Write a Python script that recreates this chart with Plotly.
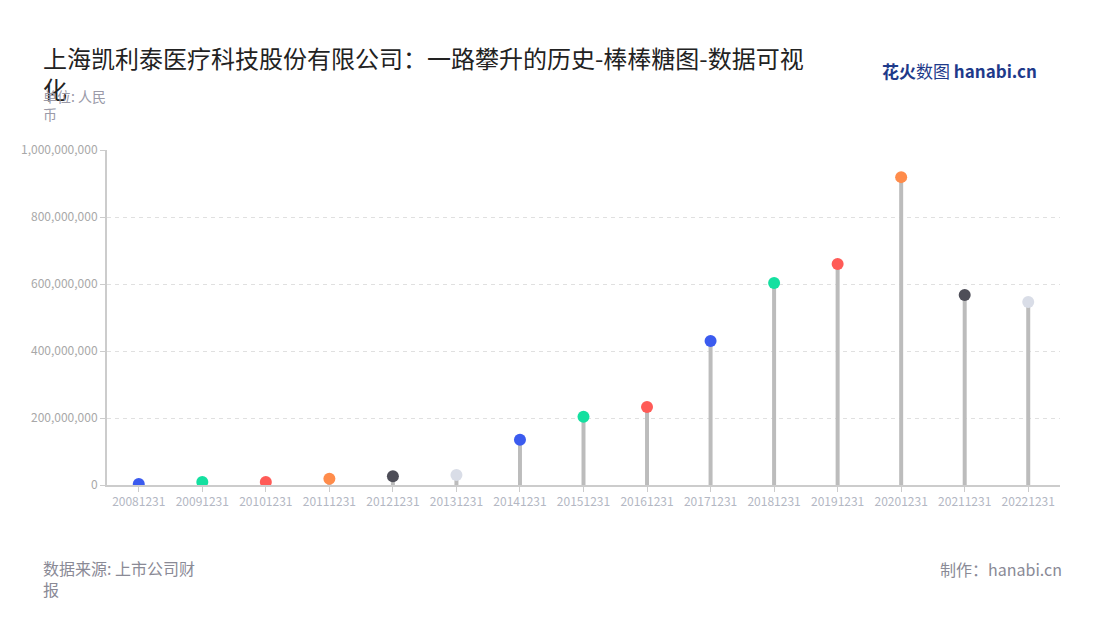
import plotly.graph_objects as go

categories = ["20081231", "20091231", "20101231", "20111231", "20121231", "20131231",
              "20141231", "20151231", "20161231", "20171231", "20181231", "20191231",
              "20201231", "20211231", "20221231"]
values = [3e6, 9e6, 9e6, 19e6, 26e6, 30e6, 135e6, 204e6, 233e6, 430e6, 603e6, 660e6,
          919e6, 567e6, 546e6]
point_colors = ["#3b5bef", "#14e0a0", "#ff5b57", "#ff8c4b", "#4e4e58", "#d9dde7",
                "#3b5bef", "#14e0a0", "#ff5b57", "#3b5bef", "#14e0a0", "#ff5b57",
                "#ff8c4b", "#4e4e58", "#d9dde7"]
y_ticks = [0, 200e6, 400e6, 600e6, 800e6, 1000e6]

title = "上海凯利泰医疗科技股份有限公司：一路攀升的历史-棒棒糖图-数据可视<br>化"
unit = "单位: 人民<br>币"
source = "数据来源: 上市公司财<br>报"
maker = "制作：hanabi.cn"

font = "Noto Sans CJK SC, Noto Sans, sans-serif"

fig = go.Figure()
for c, v in zip(categories, values):
    fig.add_trace(go.Scatter(x=[c, c], y=[0, v], mode="lines",
                             line=dict(color="#bcbcbc", width=4),
                             hoverinfo="skip", showlegend=False))
fig.add_trace(go.Scatter(x=categories, y=values, mode="markers",
                         marker=dict(color=point_colors, size=12, line=dict(width=0)),
                         showlegend=False))

W, H = 1100, 620
pl, pr, pt, pb = 107, 40, 150, 135
pw, ph = W - pl - pr, H - pt - pb

fig.update_layout(
    width=W, height=H,
    paper_bgcolor="white", plot_bgcolor="white",
    margin=dict(l=pl, r=pr, t=pt, b=pb),
    font=dict(family=font),
    xaxis=dict(type="category", categoryorder="array", categoryarray=categories,
               range=[-0.5, len(categories) - 0.5],
               showgrid=False, showline=True, linecolor="#cccccc", linewidth=2,
               ticks="outside", ticklen=5, tickcolor="#cccccc",
               tickfont=dict(size=12, color="#b3b7c3"), zeroline=False),
    yaxis=dict(range=[0, 1e9], tickvals=y_ticks, tickformat=",d",
               showgrid=True, gridcolor="#e0e0e0", griddash="4px,4px", gridwidth=1,
               showline=True, linecolor="#cccccc", linewidth=2,
               ticks="outside", ticklen=5, tickcolor="#cccccc",
               tickfont=dict(size=12, color="#a8a8a8"), zeroline=False),
)


def px(x):
    return (x - pl) / pw


def py(y):
    return (H - pb - y) / ph


fig.add_annotation(text=title, x=px(41), y=py(38), xref="paper", yref="paper",
                   xanchor="left", yanchor="top", align="left", showarrow=False,
                   font=dict(size=24, color="#222222", family=font))
fig.add_annotation(text=unit, x=px(41), y=py(84), xref="paper", yref="paper",
                   xanchor="left", yanchor="top", align="left", showarrow=False,
                   font=dict(size=14, color="#9a9aa8", family=font))
fig.add_annotation(text=source, x=px(41), y=py(554), xref="paper", yref="paper",
                   xanchor="left", yanchor="top", align="left", showarrow=False,
                   font=dict(size=16, color="#8a8a96", family=font))
fig.add_annotation(text=maker, x=px(1064), y=py(555), xref="paper", yref="paper",
                   xanchor="right", yanchor="top", align="right", showarrow=False,
                   font=dict(size=16, color="#8a8a96", family=font))
fig.add_annotation(text="<b>花火</b>数图 <b>hanabi.cn</b>", x=px(1039), y=py(71), xref="paper", yref="paper",
                   xanchor="right", yanchor="middle", align="right", showarrow=False,
                   font=dict(size=17, color="#1e3a8a", family=font))

fig.write_html("out.html", config={"displayModeBar": False},
               post_script="document.body.style.margin='0';")
